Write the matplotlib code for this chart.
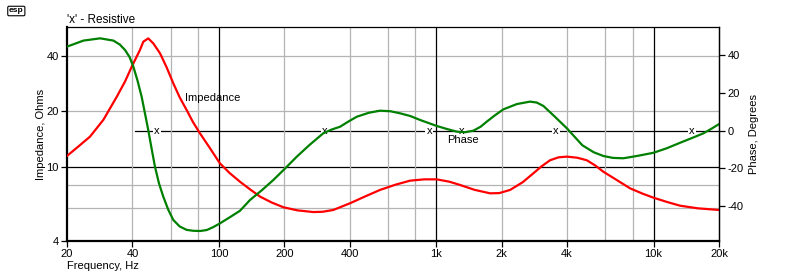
import numpy as np
import matplotlib
matplotlib.use("Agg")
import matplotlib.pyplot as plt
from matplotlib.ticker import NullLocator

plt.rcParams['font.family'] = ['Liberation Sans', 'DejaVu Sans']

# ---- IMPEDANCE (red), ohms ----
z_freq = [20, 22.5, 25.5, 29.4, 33.9, 37, 39.7, 43.3, 44.9, 47.3, 49.9, 53.6, 57.5,
          61.7, 66, 71.1, 76, 81.9, 90, 101, 112, 125, 140, 155, 175, 198, 230,
          272, 300, 336, 401, 470, 551, 650, 758, 880, 1005, 1150, 1287, 1500,
          1769, 1950, 2186, 2500, 2798, 3050, 3340, 3650, 3988, 4450, 4928, 5400,
          5876, 6800, 7798, 8900, 9980, 11500, 13240, 16000, 20000]
z_ohms = [11.5, 12.9, 14.6, 18.0, 24.0, 29.0, 34.8, 42.8, 47.5, 49.5, 46.5, 41.1, 34.5,
          28.3, 23.8, 20.3, 17.5, 15.2, 12.9, 10.5, 9.3, 8.35, 7.55, 6.93, 6.45, 6.08, 5.85,
          5.73, 5.75, 5.88, 6.39, 6.95, 7.54, 8.05, 8.46, 8.60, 8.60, 8.35, 8.02, 7.55,
          7.23, 7.25, 7.54, 8.3, 9.27, 10.1, 10.9, 11.3, 11.4, 11.25, 10.9, 10.2,
          9.45, 8.5, 7.69, 7.2, 6.85, 6.5, 6.20, 6.0, 5.88]

# ---- PHASE (green), degrees ----
ph_freq = [20, 23.8, 28.4, 32.7, 35, 37, 38.8, 40.4, 42.2, 44.1, 45.7, 47.3, 49,
           50.8, 53, 55.5, 58.5, 61.7, 66, 71, 76.3, 82, 87.9, 94, 101, 112, 125,
           139, 158, 178, 200, 228, 262, 302, 330, 361, 395, 431, 490, 551, 615,
           682, 758, 842, 920, 1005, 1120, 1243, 1360, 1482, 1600, 1708, 1860,
           2036, 2350, 2702, 2900, 3112, 3500, 3988, 4700, 5300, 5876, 6500, 7262,
           8370, 9980, 11500, 13240, 15000, 16950, 18500, 20000]
ph_deg = [44.4, 47.6, 48.8, 47.6, 45.5, 42.6, 38.9, 33.8, 26.5, 17.9, 9.0, 0.3, -9.5,
          -19.2, -28.0, -35.1, -42.0, -47.4, -50.8, -52.6, -53.1, -53.2, -52.7, -51.2,
          -49.2, -46.0, -42.5, -36.8, -31.5, -26.2, -20.5, -13.9, -7.5, -1.5, 0.5, 2.0,
          4.8, 7.3, 9.4, 10.5, 10.2, 9.1, 7.7, 5.6, 4.0, 2.4, 0.8, -0.6, -0.9, -0.1,
          2.0, 4.7, 8.0, 11.2, 14.0, 15.3, 14.8, 13.0, 7.5, 1.2, -7.8, -11.5, -13.5,
          -14.5, -14.7, -13.5, -11.8, -9.4, -6.5, -4.0, -1.5, 1.0, 3.4]

# frequencies where the 'x' (resistive) marks sit
resistive_freq = [51.7, 308, 930, 1310, 3560, 15000]

x_ticks = [20, 40, 100, 200, 400, 1000, 2000, 4000, 10000, 20000]
x_labels = ['20', '40', '100', '200', '400', '1k', '2k', '4k', '10k', '20k']
z_ticks = [4, 10, 20, 40]
ph_ticks = [-40, -20, 0, 20, 40]
grid_gray_x = [40, 60, 80, 200, 400, 600, 800, 2000, 4000, 6000, 8000]
grid_black_x = [100, 1000, 10000]
grid_gray_z = [6, 8, 20, 40]

Z_LIM = (4, 57)
PH_LIM = (-58.5, 54.8)
FS = 8


def ph_to_z(ph):
    # phase axis is linear, impedance axis is log: map phase onto the left scale
    t = (np.asarray(ph, dtype=float) - PH_LIM[0]) / (PH_LIM[1] - PH_LIM[0])
    return Z_LIM[0] * (Z_LIM[1] / Z_LIM[0]) ** t


fig = plt.figure(figsize=(8, 2.8), dpi=100)
ax = fig.add_axes([67 / 800, 39 / 280, 652 / 800, 214 / 280])
ax.set_xscale('log')
ax.set_yscale('log')
ax.set_xlim(20, 20000)
ax.set_ylim(*Z_LIM)

# ---- GRID ----
for f in grid_gray_x:
    ax.axvline(f, color='#b4b4b4', lw=0.9, zorder=2.5)
for f in grid_black_x:
    ax.axvline(f, color='black', lw=0.9, zorder=2.5)
for z in grid_gray_z:
    ax.axhline(z, color='#b4b4b4', lw=0.9, zorder=1)
ax.axhline(10, color='black', lw=0.9, zorder=1)

# phase zero (resistive) line with x marks
ax.plot([41, 20000], ph_to_z([0, 0]), color='black', lw=0.9, zorder=2)
for f in resistive_freq:
    ax.text(f, ph_to_z(0), 'x', ha='center', va='center', fontsize=FS,
            bbox=dict(fc='white', ec='none', pad=0.8), zorder=3)

# ---- CURVES ----
ax.plot(z_freq, z_ohms, color='#ff0000', lw=1.6, zorder=4)
ax.plot(ph_freq, ph_to_z(ph_deg), color='#008000', lw=1.6, zorder=5)

ax.text(70, 23.6, 'Impedance', fontsize=FS, ha='left', va='center', zorder=6)
ax.text(1120, ph_to_z(-5.0), 'Phase', fontsize=FS, ha='left', va='center', zorder=6)

# ---- AXES ----
ax.set_xticks(x_ticks)
ax.set_xticklabels(x_labels)
ax.set_yticks(z_ticks)
ax.set_yticklabels([str(t) for t in z_ticks])
ax.xaxis.set_minor_locator(NullLocator())
ax.yaxis.set_minor_locator(NullLocator())
ax.tick_params(axis='both', direction='out', length=4, width=0.9,
               labelsize=FS, pad=2)
ax.set_ylabel('Impedance, Ohms', fontsize=FS, labelpad=0)

for side in ['left', 'bottom']:
    ax.spines[side].set_linewidth(1.6)
for side in ['top', 'right']:
    ax.spines[side].set_linewidth(0.9)

ax2 = ax.twinx()
ax2.set_ylim(*PH_LIM)
ax2.set_yticks(ph_ticks)
ax2.set_yticklabels([str(t) for t in ph_ticks])
ax2.yaxis.set_minor_locator(NullLocator())
ax2.tick_params(direction='out', length=4, width=0.9, labelsize=FS, pad=2)
for side in ['left', 'bottom', 'top']:
    ax2.spines[side].set_visible(False)
ax2.spines['right'].set_linewidth(0.9)
ax2.set_ylabel('Phase, Degrees', fontsize=FS, labelpad=4)

fig.text(67 / 800, 1 - 266 / 280, 'Frequency, Hz', fontsize=FS,
         ha='left', va='center')
fig.text(67 / 800, 1 - 20 / 280, "'x' - Resistive", fontsize=FS + 0.5,
         ha='left', va='center')
fig.text(9 / 800, 1 - 11 / 280, 'esp', fontsize=6, fontweight='bold',
         ha='left', va='center',
         bbox=dict(boxstyle='round,pad=0.15', fc='white', ec='black', lw=0.8))

fig.savefig('out.png', dpi=100, facecolor='white')
